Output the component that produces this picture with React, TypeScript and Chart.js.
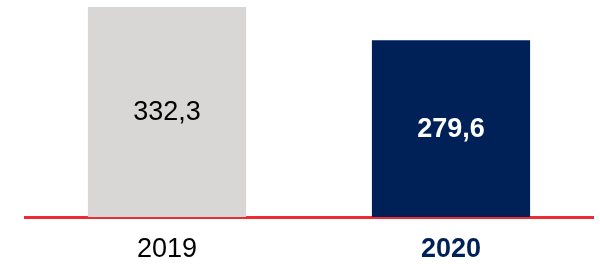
import React, { useEffect, useRef } from "react";
import { Chart, registerables } from "chart.js";

Chart.register(...registerables);

const categories = ["2019", "2020"];
const values = [332.3, 279.6];
const valueLabels = ["332,3", "279,6"];
const barColors = ["#D8D7D5", "#002157"];
const valueLabelColors = ["#000000", "#FFFFFF"];
const valueLabelWeights = ["normal", "bold"];
const tickColors = ["#000000", "#002157"];
const tickWeights = ["normal", "bold"];

const FONT = "Arial, 'Liberation Sans', sans-serif";

const valueLabelPlugin = {
  id: "valueLabels",
  afterDatasetsDraw(chart: any) {
    const ctx = chart.ctx;
    const meta = chart.getDatasetMeta(0);
    ctx.save();
    ctx.textAlign = "center";
    ctx.textBaseline = "middle";
    meta.data.forEach((el: any, i: number) => {
      const { x, y, base } = el.getProps(["x", "y", "base"], true);
      ctx.font = `${valueLabelWeights[i]} 27px ${FONT}`;
      ctx.fillStyle = valueLabelColors[i];
      ctx.fillText(valueLabels[i], x, (y + base) / 2 + 1);
    });
    ctx.restore();
  },
};

export default function App() {
  const ref = useRef<HTMLCanvasElement | null>(null);
  useEffect(() => {
    if (!ref.current) return;
    const chart = new Chart(ref.current, {
      type: "bar",
      data: {
        labels: categories,
        datasets: [
          {
            data: values,
            backgroundColor: barColors,
            borderWidth: 0,
            barPercentage: 0.557,
            categoryPercentage: 1,
          },
        ],
      },
      options: {
        responsive: false,
        animation: false,
        layout: { padding: { left: 25, right: 7, top: 7, bottom: 0 } },
        plugins: { legend: { display: false }, tooltip: { enabled: false } },
        scales: {
          y: { display: false, min: 0, max: 332.3 },
          x: {
            grid: { display: false, drawTicks: false },
            border: { display: true, color: "#EE2A33", width: 3 },
            afterFit: (scale: any) => {
              scale.height = 47;
            },
            ticks: {
              padding: 16,
              maxRotation: 0,
              font: (c: any) => ({
                family: FONT,
                size: 27,
                weight: tickWeights[c.index] as any,
              }),
              color: (c: any) => tickColors[c.index],
            },
          },
        },
      },
      plugins: [valueLabelPlugin],
    });
    return () => chart.destroy();
  }, []);
  return (
    <div style={{ position: "absolute", left: 0, top: 0, width: 600, height: 264 }}>
      <canvas ref={ref} width={600} height={264} />
    </div>
  );
}
